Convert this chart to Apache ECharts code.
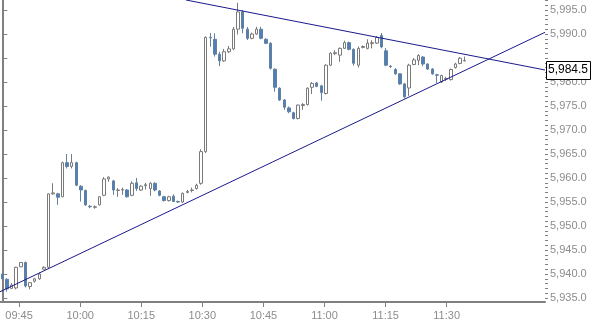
<!DOCTYPE html>
<html>
<head>
<meta charset="utf-8">
<script src="https://cdn.jsdelivr.net/npm/echarts@6/dist/echarts.min.js"></script>
<style>
html,body{margin:0;padding:0;background:#fff;}
#c{width:592px;height:323px;}
</style>
</head>
<body>
<div id="c"></div>
<script>
// ---- data (one candle per bar) ----
var opens  = [5940.0,5938.9,5937.0,5937.1,5941.5,5942.4,5937.4,5938.5,5939.0,5941.0,
              5941.4,5956.7,5956.7,5956.1,5963.2,5962.4,5963.2,5958.3,5957.4,5954.1,
              5953.9,5954.4,5956.4,5959.8,5959.4,5957.4,5957.5,5957.5,5956.4,5959.0,
              5957.5,5958.4,5957.8,5958.9,5957.3,5956.1,5955.3,5956.2,5955.1,5955.0,
              5957.0,5957.4,5957.8,5958.9,5965.5,5989.3,5988.9,5985.8,5984.4,5986.3,
              5986.9,5991.0,5994.6,5991.0,5989.1,5990.0,5991.0,5988.9,5988.05,5982.65,
              5978.7,5976.25,5974.6,5973.6,5972.4,5975.1,5975.3,5978.9,5979.8,5979.2,
              5977.6,5983.5,5985.9,5985.6,5987.0,5988.2,5986.8,5983.5,5987.2,5987.0,
              5988.0,5988.1,5989.7,5986.5,5983.3,5982.6,5981.7,5979.6,5978.75,5983.65,
              5984.5,5985.2,5983.75,5982.7,5981.5,5980.0,5980.6,5980.5,5983.0,5983.85,
              5984.4];
var closes = [5939.0,5936.9,5937.7,5941.4,5942.4,5937.5,5938.2,5939.0,5940.0,5941.4,
              5956.7,5956.9,5956.0,5963.2,5962.4,5963.2,5958.5,5957.5,5954.4,5954.0,
              5954.0,5956.1,5959.8,5960.2,5957.5,5957.5,5957.6,5956.1,5958.9,5957.8,
              5958.3,5958.6,5958.9,5957.5,5956.4,5955.3,5956.1,5955.1,5955.0,5956.8,
              5957.2,5957.5,5958.5,5965.5,5989.3,5989.2,5985.8,5984.4,5986.3,5986.9,
              5991.0,5994.6,5991.2,5989.1,5990.0,5991.0,5989.1,5988.05,5982.85,5978.9,
              5976.25,5974.75,5973.8,5972.4,5975.2,5975.3,5978.7,5979.7,5979.1,5977.8,
              5983.5,5986.0,5986.1,5987.0,5988.2,5986.8,5983.9,5987.0,5987.4,5988.1,
              5988.2,5989.3,5987.3,5983.5,5983.2,5981.7,5979.6,5976.9,5983.5,5984.6,
              5985.5,5983.75,5982.7,5981.7,5981.4,5981.35,5980.7,5982.6,5983.75,5984.95,
              5984.5];
var lows   = [5938.6,5936.3,5936.9,5936.8,5941.4,5937.2,5936.8,5938.2,5938.8,5940.9,
              5941.2,5956.5,5954.4,5956.0,5962.0,5962.0,5958.3,5955.1,5954.2,5953.7,
              5953.6,5954.3,5956.2,5959.2,5956.5,5956.1,5956.5,5955.9,5956.2,5957.3,
              5957.3,5957.6,5956.3,5957.2,5956.2,5955.1,5955.1,5955.0,5954.8,5954.8,
              5956.8,5957.0,5957.6,5958.6,5965.2,5987.35,5985.3,5983.3,5984.2,5986.0,
              5986.65,5989.9,5990.15,5988.75,5988.9,5989.8,5988.9,5987.9,5982.6,5977.98,
              5976.05,5974.2,5973.5,5972.2,5972.2,5974.2,5975.1,5977.5,5978.9,5976.1,
              5977.4,5983.3,5985.6,5984.2,5986.9,5986.6,5983.4,5983.0,5987.0,5986.8,
              5987.0,5987.9,5987.0,5983.3,5982.9,5981.5,5979.4,5976.6,5977.1,5983.5,
              5983.5,5983.3,5982.5,5981.5,5979.8,5979.8,5980.2,5980.3,5982.8,5983.7,
              5984.3];
var highs  = [5940.4,5939.1,5938.1,5941.5,5942.5,5942.6,5938.3,5939.2,5940.3,5941.6,
              5956.8,5958.9,5956.9,5963.4,5965.0,5965.0,5963.4,5958.5,5957.6,5954.4,
              5954.3,5956.2,5960.2,5960.3,5959.6,5957.9,5958.0,5957.7,5959.3,5960.0,
              5958.5,5959.0,5959.1,5959.1,5957.5,5956.3,5956.3,5956.6,5955.3,5957.0,
              5957.5,5958.0,5958.8,5966.0,5989.5,5990.2,5990.15,5986.3,5986.9,5987.5,
              5991.45,5996.5,5995.0,5991.45,5990.3,5991.5,5991.5,5989.1,5988.3,5982.85,
              5978.9,5976.45,5974.9,5973.8,5975.3,5975.6,5978.9,5980.0,5980.0,5979.4,
              5983.7,5986.2,5986.6,5987.2,5988.6,5988.4,5987.0,5987.4,5987.6,5988.9,
              5988.7,5989.6,5990.2,5987.1,5983.5,5982.9,5981.8,5979.8,5983.8,5985.0,
              5985.8,5985.4,5983.9,5982.9,5981.7,5981.5,5981.1,5982.8,5984.0,5985.2,
              5985.3];
// trend lines: [bar index, price] end points
var upperTrend = [[39.73, 5997.08], [117.37, 5982.5]];
var lowerTrend = [[-0.5, 5936.31], [117.37, 5990.35]];
// axis labels
var timeStepMin = 15;            // label every 15 minutes, 09:30 .. 11:30 (minutes after 09:00)
var timeFirst = 30, timeLast = 150;
var priceTicks  = [5935, 5940, 5945, 5950, 5955, 5960, 5965, 5970, 5975, 5980, 5985, 5990, 5995];
var priceLabels = [5935, 5940, 5945, 5950, 5955, 5960, 5965, 5970, 5975, 5980, 5990, 5995];
var minorTicks = [];
for (var p = 5935; p <= 5997; p++) minorTicks.push(p);
var lastPrice = 5984.5;

var candles = opens.map(function (o, i) { return [i, o, closes[i], lows[i], highs[i]]; });

function fmtTime(m) {
  if (Math.abs(m % 15) > 1e-6) return '';
  var h = Math.floor(m / 60) + 9, mm = Math.round(m % 60);
  return (h < 10 ? '0' : '') + h + ':' + (mm < 10 ? '0' : '') + mm;
}
function fmtPrice(v) {
  var s = v.toFixed(1);
  return s.replace(/^(\d)(\d{3})/, '$1,$2');
}

var FONT = '"Liberation Sans", Arial, sans-serif';
var chart = echarts.init(document.getElementById('c'), null, { renderer: 'canvas' });
var option = {
  backgroundColor: '#fff',
  animation: false,
  grid: [
    { left: 0, right: 47, top: 0, bottom: 21, containLabel: false, outerBoundsMode: 'none' },
    { left: -42, right: 145.33, top: 0, bottom: 21, containLabel: false, outerBoundsMode: 'none' }
  ],
  xAxis: [
    { type: 'value', gridIndex: 0, min: -0.497, max: 117.37, position: 'bottom',
      axisLine: { show: true, lineStyle: { color: '#808080', width: 2 } },
      axisTick: { show: false }, axisLabel: { show: false }, splitLine: { show: false } },
    { type: 'value', gridIndex: 1, min: timeFirst, max: timeLast, interval: timeStepMin, position: 'bottom',
      axisLine: { show: false },
      axisTick: { show: true, length: 5, lineStyle: { color: '#808080', width: 1 } },
      axisLabel: { formatter: fmtTime, color: '#8c8c8c', fontSize: 11, fontFamily: FONT, margin: 8,
                   showMinLabel: true, showMaxLabel: true, hideOverlap: false },
      splitLine: { show: false } }
  ],
  yAxis: [
    { type: 'value', gridIndex: 0, position: 'right', min: 5934.17, max: 5997.08,
      axisLine: { show: true, lineStyle: { color: '#808080', width: 2 } },
      axisTick: { show: true, customValues: priceTicks, length: 5, lineStyle: { color: '#808080', width: 1 } },
      axisLabel: { customValues: priceLabels, formatter: fmtPrice, color: '#8c8c8c', fontSize: 11, fontFamily: FONT, margin: 5 },
      splitLine: { show: false } },
    { type: 'value', gridIndex: 0, position: 'right', min: 5934.17, max: 5997.08,
      axisLine: { show: false },
      axisTick: { show: true, customValues: minorTicks, length: 3, lineStyle: { color: '#808080', width: 1 } },
      axisLabel: { show: false },
      splitLine: { show: false } },
    { type: 'value', gridIndex: 1, show: false, min: 0, max: 1 }
  ],
  series: [
    { type: 'candlestick', xAxisIndex: 0, yAxisIndex: 0, data: candles,
      encode: { x: 0, y: [1, 2, 3, 4] },
      barWidth: 3, clip: true,
      itemStyle: { color: '#ffffff', color0: '#4f7fb8', borderColor: '#7a7a7a', borderColor0: '#62809f', borderWidth: 1 } },
    { type: 'line', xAxisIndex: 0, yAxisIndex: 0, data: upperTrend, symbol: 'none', silent: true, clip: true,
      lineStyle: { color: '#1a1a8c', width: 1 } },
    { type: 'line', xAxisIndex: 0, yAxisIndex: 0, data: lowerTrend, symbol: 'none', silent: true, clip: true,
      lineStyle: { color: '#1a1a8c', width: 1 } }
  ]
};
chart.setOption(option);
var py = chart.convertToPixel({ yAxisIndex: 0 }, lastPrice);
chart.setOption({
  graphic: [
    { type: 'rect', left: 546, top: Math.round(py) + 1, shape: { width: 44, height: 18 },
      style: { fill: '#fff', stroke: '#000', lineWidth: 1 }, z: 100 },
    { type: 'text', left: 548, top: Math.round(py) + 4,
      style: { text: fmtPrice(lastPrice), fill: '#000', fontSize: 12, fontFamily: FONT }, z: 101 }
  ]
});
</script>
</body>
</html>
